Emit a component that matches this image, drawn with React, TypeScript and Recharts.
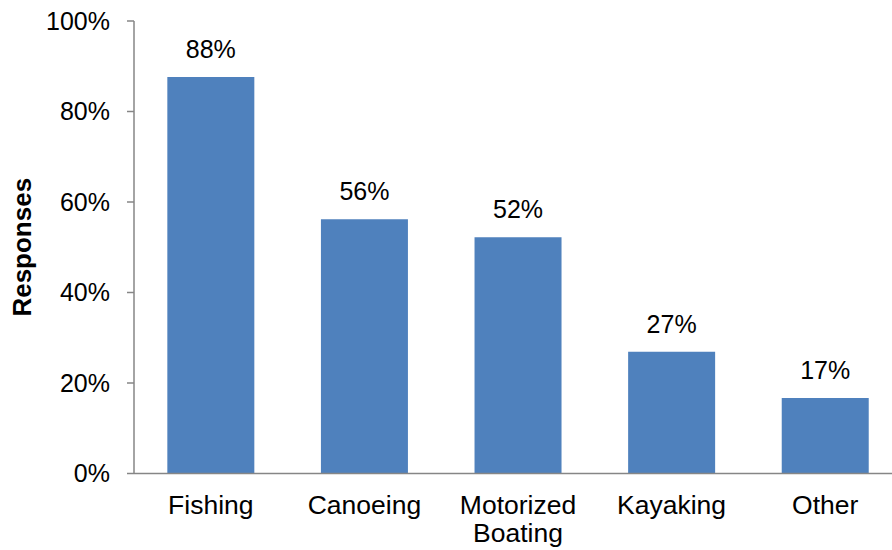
import React from "react";
import { BarChart, Bar, XAxis, YAxis, LabelList } from "recharts";

const CATEGORIES = ["Fishing", "Canoeing", "Motorized Boating", "Kayaking", "Other"];
const RESPONSES = [87.6, 56.2, 52.2, 26.9, 16.7];
const Y_TICKS = [0, 20, 40, 60, 80, 100];

const FONT = "'Liberation Sans', Arial, sans-serif";
const AXIS_GRAY = "#868686";
const BAR_BLUE = "#4f81bd";

const data = CATEGORIES.map((name, i) => ({ name, value: RESPONSES[i] }));

// category labels wrap one word per line, like the original
function CategoryTick(props: any) {
  const { x, y, payload } = props;
  const words: string[] = String(payload.value).split(" ");
  return (
    <text x={x} y={y} textAnchor="middle" fill="#000" fontSize={26.5} fontFamily={FONT}>
      {words.map((w, i) => (
        <tspan key={i} x={x} dy={i === 0 ? 18 : 28}>
          {w}
        </tspan>
      ))}
    </text>
  );
}

export default function App() {
  return (
    <div style={{ position: "absolute", left: 0, top: 0, width: 892, height: 550, overflow: "hidden", background: "#fff" }}>
      <BarChart
        width={902}
        height={550}
        data={data}
        margin={{ top: 21, right: 0, bottom: 0, left: 0 }}
        barCategoryGap="21.7%"
      >
        <XAxis
          dataKey="name"
          height={76.5}
          tickLine={false}
          tickSize={0}
          tickMargin={22}
          axisLine={{ stroke: AXIS_GRAY, strokeWidth: 1.5 }}
          tick={<CategoryTick />}
          interval={0}
        />
        <YAxis
          width={134}
          domain={[0, 100]}
          ticks={Y_TICKS}
          tickFormatter={(v: number) => `${v}%`}
          tickSize={7}
          tickMargin={17}
          axisLine={{ stroke: AXIS_GRAY, strokeWidth: 1.5 }}
          tickLine={{ stroke: AXIS_GRAY, strokeWidth: 1.5 }}
          tick={{ fill: "#000", fontSize: 25, fontFamily: FONT }}
          label={{
            value: "Responses",
            angle: -90,
            position: "insideLeft",
            offset: 22,
            style: { textAnchor: "middle", fontWeight: "bold", fontSize: 26, fontFamily: FONT, fill: "#000" },
          }}
        />
        <Bar dataKey="value" fill={BAR_BLUE} isAnimationActive={false}>
          <LabelList
            dataKey="value"
            position="top"
            offset={19}
            formatter={(v: any) => `${Math.round(Number(v))}%`}
            style={{ fill: "#000", fontSize: 25, fontFamily: FONT }}
          />
        </Bar>
      </BarChart>
    </div>
  );
}
